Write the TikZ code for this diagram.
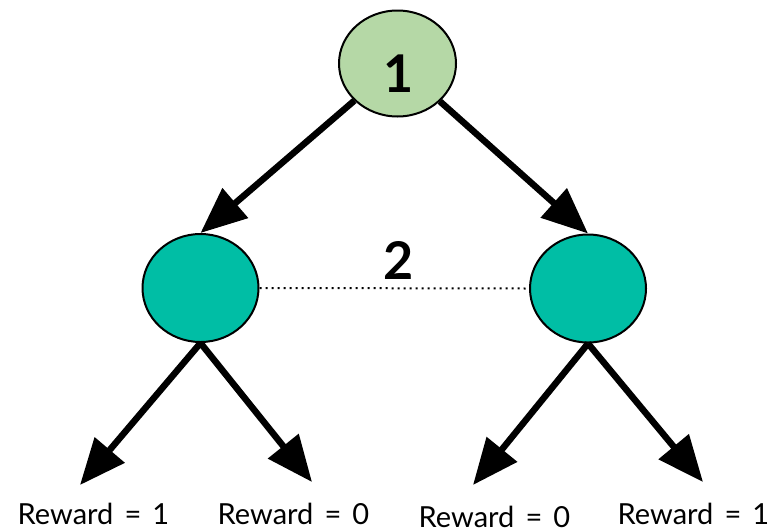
\documentclass[tikz,border=0pt]{standalone}
\usepackage{fontspec}
\setmainfont{Lato}
\newfontfamily\rewardfont{Lato}[WordSpace={1.5,0,0}]
\usetikzlibrary{shapes.geometric,arrows.meta}
\definecolor{rootgreen}{RGB}{181,216,166}
\definecolor{childteal}{RGB}{0,190,165}
\tikzset{
  state/.style={ellipse, draw=black, line width=2pt, inner sep=0pt},
  rootstate/.style={state, fill=rootgreen, minimum width=117pt, minimum height=106pt},
  childstate/.style={state, fill=childteal, minimum width=116pt, minimum height=108pt},
  bigarrow/.style={line width=6.5pt, -{Triangle[length=46pt,width=38pt]}},
  stepnum/.style={font=\bfseries\fontsize{52}{52}\selectfont, inner sep=0pt},
  reward/.style={font=\rewardfont\fontsize{29}{29}\selectfont, inner sep=0pt, anchor=base},
  sibling/.style={line width=2pt, dash pattern=on 2pt off 4pt}
}
\begin{document}
\begin{tikzpicture}[x=1pt,y=-1pt]
  \useasboundingbox (0,0) rectangle (775,528);

  % tree states
  \node[rootstate] (root) at (397.5,63.5) {};
  \node[stepnum] (one) at (399,73.5) {1};
  \node[childstate] (left) at (200.5,288) {};
  \node[childstate] (right) at (588,288.5) {};

  % dotted link between the two children and its step number
  \draw[sibling] (left.east) -- (right.west);
  \node[stepnum] (two) at (398.5,260.5) {2};

  % arrow ends of the leaves
  \coordinate (ll) at (80,485);
  \coordinate (lr) at (312,482);
  \coordinate (rl) at (473,485);
  \coordinate (rr) at (703,482);

  % branches
  \draw[bigarrow] (root) -- (left.north);
  \draw[bigarrow] (root) -- (right.north);
  \draw[bigarrow] (left.south) -- (ll);
  \draw[bigarrow] (left.south) -- (lr);
  \draw[bigarrow] (right.south) -- (rl);
  \draw[bigarrow] (right.south) -- (rr);

  % rewards
  \node[reward] (r1) at (93.5,524) {Reward = 1};
  \node[reward] (r2) at (293.5,524) {Reward = 0};
  \node[reward] (r3) at (494.5,527) {Reward = 0};
  \node[reward] (r4) at (693.5,524) {Reward = 1};
\end{tikzpicture}
\end{document}
